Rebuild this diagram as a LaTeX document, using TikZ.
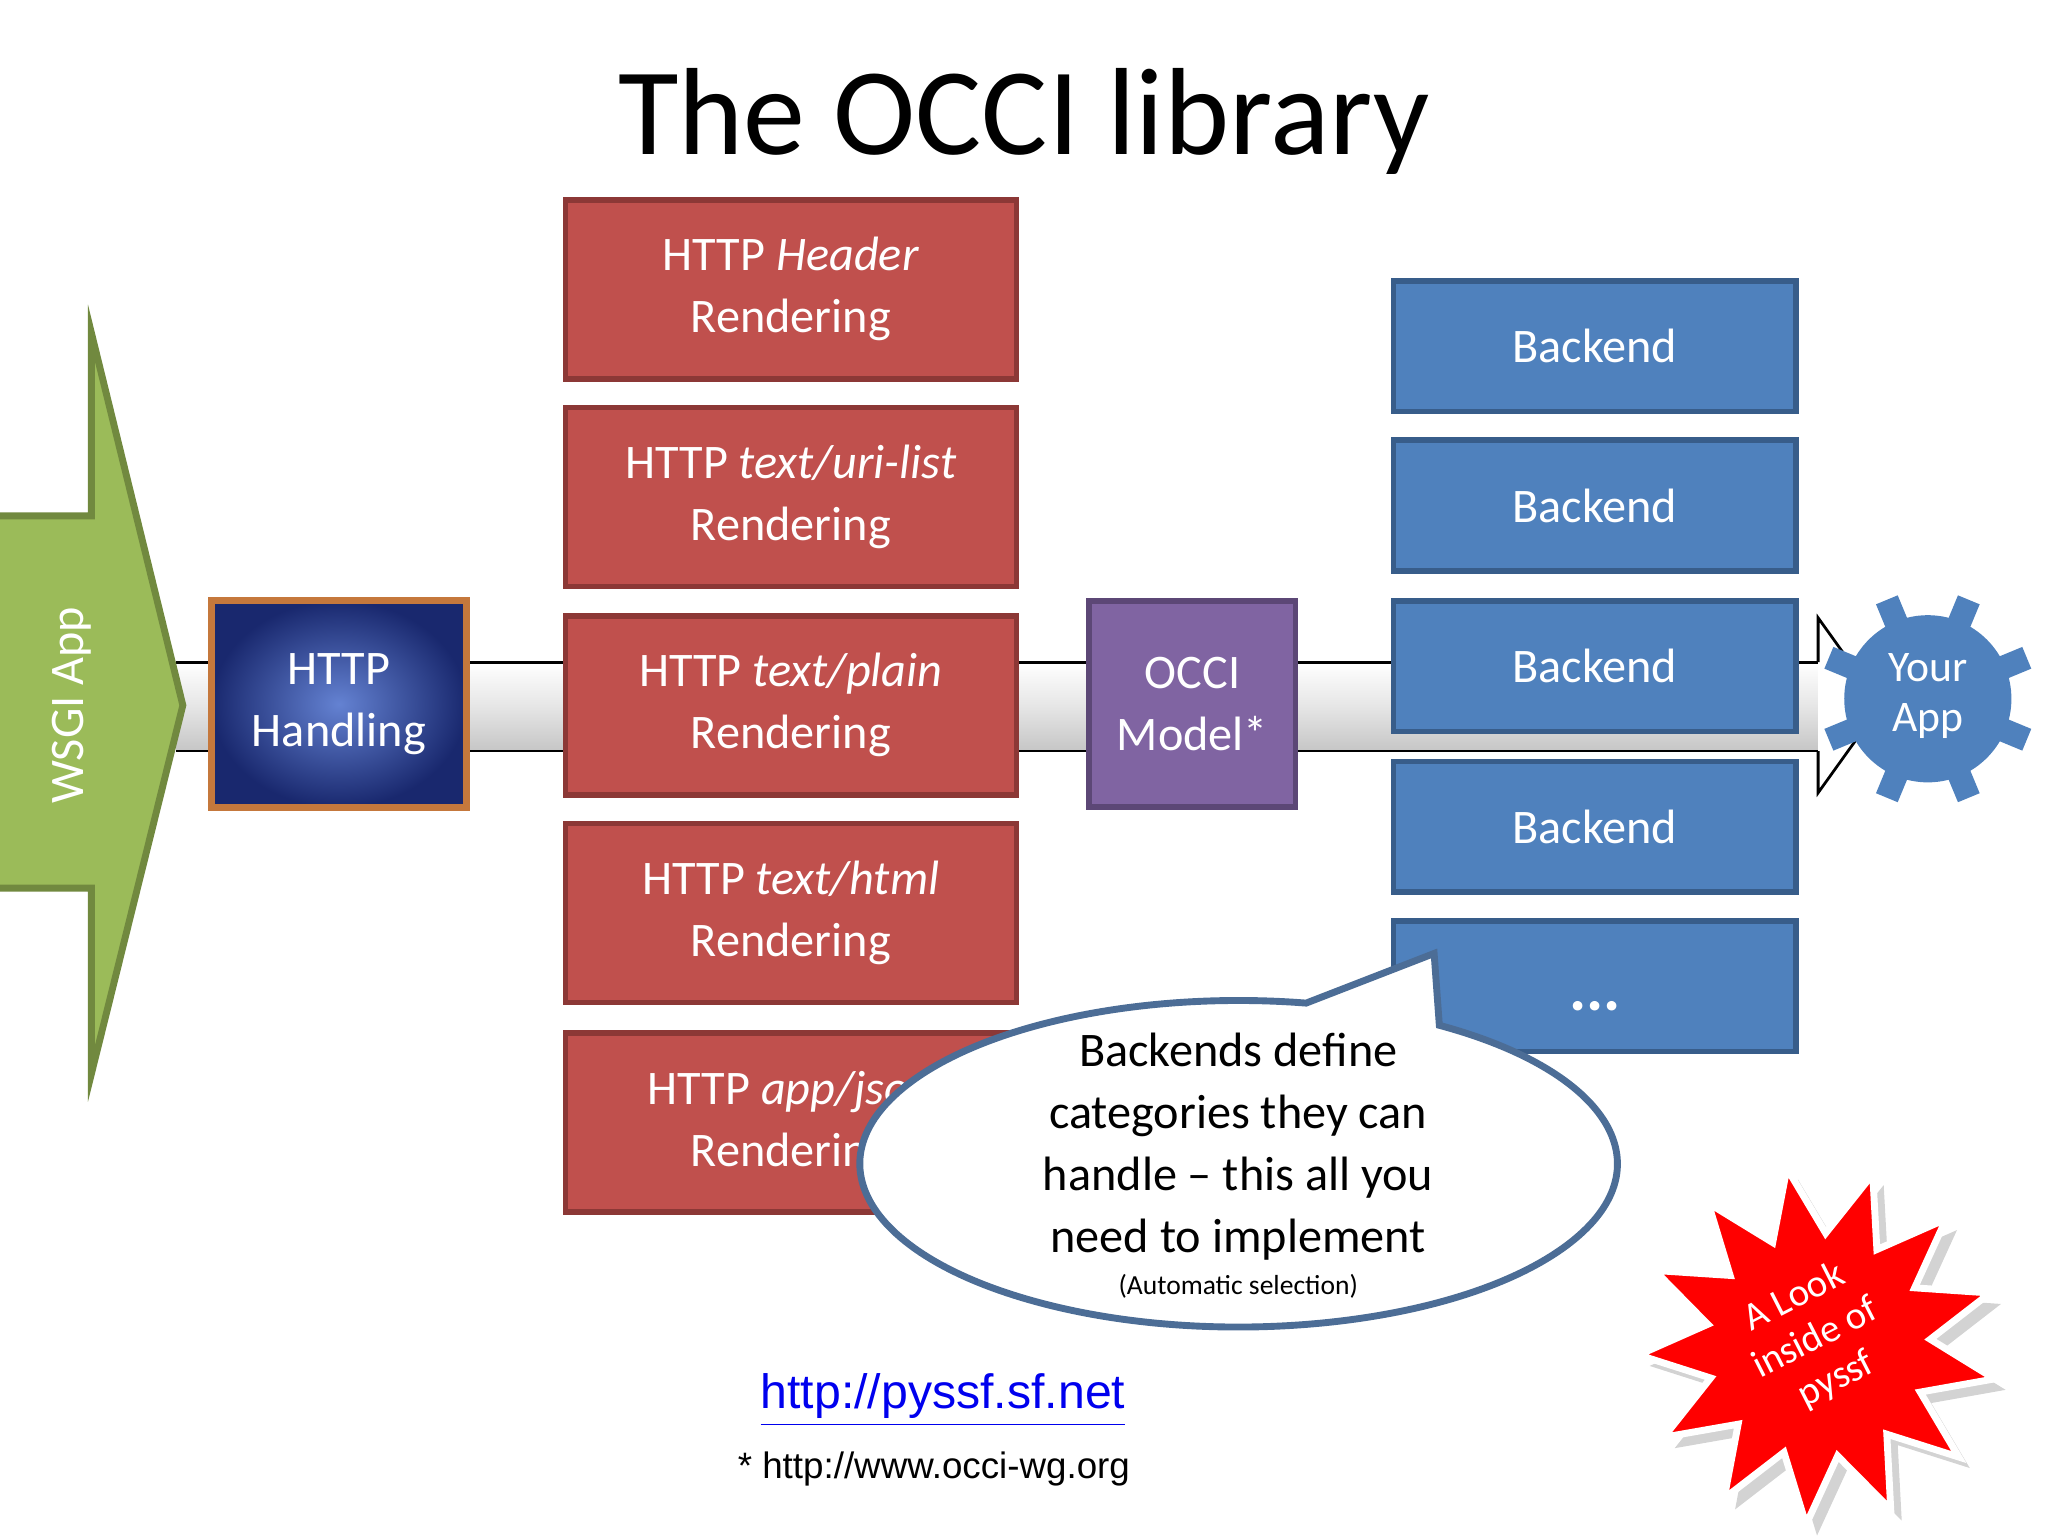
\documentclass[tikz,border=0pt]{standalone}
\usepackage{fontspec}
\setmainfont{Carlito}
\newfontfamily\arialf{Liberation Sans}
\usetikzlibrary{shapes.geometric,shadows}
\definecolor{rbox}{HTML}{C0504D}\definecolor{rbord}{HTML}{8C3836}
\definecolor{bbox}{HTML}{4F81BD}\definecolor{bbord}{HTML}{385D8A}
\definecolor{gfill}{HTML}{9BBB59}\definecolor{gbord}{HTML}{71893F}
\definecolor{pfill}{HTML}{8064A2}\definecolor{pbord}{HTML}{5C4776}
\tikzset{
 redbox/.style={draw=rbord,line width=1.2pt,fill=rbox,minimum width=3.45cm,minimum height=1.37cm,text=white,font=\fontsize{10.5}{13.5}\selectfont,align=center},
 bluebox/.style={draw=bbord,line width=1.2pt,fill=bbox,minimum width=3.08cm,minimum height=1.0cm,text=white,font=\fontsize{10.5}{13}\selectfont,align=center},
}
\begin{document}
\begin{tikzpicture}[x=0.01cm,y=-0.01cm]
\useasboundingbox (0,0) rectangle (1568,1176);
\node[font=\fontsize{27}{30}\selectfont] (title) at (784,93) {The OCCI library};
% band
\shade[top color=white,bottom color=gray!45,middle color=gray!20] (135,507) rectangle (1395,575);
\draw[line width=0.6pt] (135,507) -- (1392,507) (135,575) -- (1392,575);
\draw[fill=white,line width=0.6pt] (1392,507) -- (1392,473) -- (1440,540) -- (1392,607) -- (1392,575);
% green arrow
\draw[fill=gfill,draw=gbord,line width=1.5pt] (0,395) -- (70,395) -- (70,255) -- (140,540) -- (70,822) -- (70,680) -- (0,680);
\node[rotate=90,text=white,font=\fontsize{10.5}{12}\selectfont] (wsgi) at (55,540) {WSGI App};
% HTTP handling
\node[draw={rgb,255:red,197;green,120;blue,60},line width=1.5pt,inner color={rgb,255:red,100;green,130;blue,210},outer color={rgb,255:red,25;green,40;blue,110},minimum width=1.95cm,minimum height=1.58cm,text=white,align=center,font=\fontsize{10.5}{13.5}\selectfont] (hh) at (259.5,539) {HTTP\\Handling};
% red boxes
\node[redbox] (r1) at (605.5,221.5) {HTTP \textit{Header}\\Rendering};
\node[redbox] (r2) at (605.5,380.5) {HTTP \textit{text/uri-list}\\Rendering};
\node[redbox] (r3) at (605.5,540) {HTTP \textit{text/plain}\\Rendering};
\node[redbox] (r4) at (605.5,699) {HTTP \textit{text/html}\\Rendering};
\node[redbox] (r5) at (605.5,859.5) {HTTP \textit{app/json}\\Rendering};
% OCCI
\node[draw=pbord,line width=1.2pt,fill=pfill,minimum width=1.58cm,minimum height=1.58cm,text=white,align=center,font=\fontsize{10.5}{13.5}\selectfont] (occi) at (913,539) {OCCI\\Model*};
% backends
\node[bluebox] (b1) at (1221,265) {Backend};
\node[bluebox] (b2) at (1221,387) {Backend};
\node[bluebox] (b3) at (1221,510) {Backend};
\node[bluebox] (b4) at (1221,633) {Backend};
\node[bluebox] (b5) at (1221,755) {};
\node[text=white,font=\fontsize{14}{14}\selectfont\bfseries] (dots) at (1221,770) {...};
% gear
\begin{scope}[shift={(1476,535)}]
\foreach \a in {0,45,...,315}{
 \fill[bbox,rotate=\a+22.5] (-9,-82) rectangle (9,-55);}
\fill[bbox] (0,0) circle (64);
\end{scope}
\node[text=white,align=center,font=\fontsize{9.5}{11}\selectfont] (app) at (1476,533) {Your\\App};
% callout
\draw[bbord!90,line width=1.5pt,fill=white] (1000,768) -- (1098,730) -- (1102,785)
  arc[start angle=-58,end angle=280,x radius=290,y radius=125] -- cycle;
\node[align=center,font=\fontsize{10.5}{13.5}\selectfont] (call) at (948,878) {Backends define\\categories they can\\handle -- this all you\\need to implement};
\node[font=\fontsize{6}{7}\selectfont] (auto) at (948,985) {(Automatic selection)};
% star
\node[star,star points=13,star point ratio=1.6,minimum size=2.75cm,fill=red,draw=white,line width=1.5pt,rotate=10,drop shadow={opacity=0.35}] (st) at (1392,1030) {};
\node[rotate=27,text=white,align=center,font=\fontsize{8.5}{10}\selectfont] (stt) at (1390,1025) {A Look\\inside of\\pyssf};
% links
\node[text={rgb,255:red,0;green,0;blue,238},font=\arialf\fontsize{10.5}{12}\selectfont] (link) at (722,1072) {\underline{http://pyssf.sf.net}};
\node[font=\arialf\fontsize{8}{10}\selectfont] (ref) at (715,1125) {* http://www.occi-wg.org};
\end{tikzpicture}
\end{document}
